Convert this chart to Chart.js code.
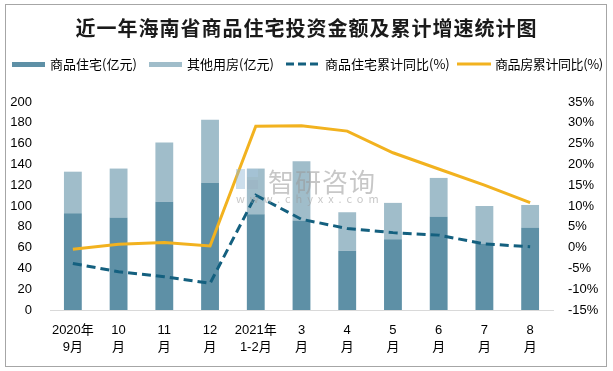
<!DOCTYPE html>
<html>
<head>
<meta charset="utf-8">
<script src="https://cdn.jsdelivr.net/npm/chart.js@4.4.0/dist/chart.umd.min.js"></script>
<style>
  html, body { margin: 0; padding: 0; background: #fff; }
  #wrap { position: relative; width: 613px; height: 371px; overflow: hidden; font-family: "Noto Sans CJK SC", sans-serif; }
  #frame { position: absolute; left: 5px; top: 4px; width: 600px; height: 361px; border: 1px solid #a6a6a6; }
  #chart { position: absolute; left: 0; top: 0; }
  #title { position: absolute; left: 0; top: 13px; width: 613px; text-align: center; font-size: 20px; font-weight: bold; color: #1a1a1a; letter-spacing: 1px; }
  .lg { position: absolute; top: 55px; font-size: 13px; color: #000; white-space: nowrap; line-height: 18px; }
  .sw { position: absolute; top: 62px; width: 33px; height: 5px; }
  .wm { position: absolute; color: #9a9a9a; opacity: 0.55; white-space: nowrap; }
</style>
</head>
<body>
<div id="wrap">
  <canvas id="chart" width="613" height="371"></canvas>
  <div id="frame"></div>
  <div id="title">近一年海南省商品住宅投资金额及累计增速统计图</div>

  <div class="sw" style="left:12px; background:#5e90a6;"></div>
  <div class="lg" style="left:50px;">商品住宅(亿元)</div>
  <div class="sw" style="left:149px; background:#a0bdca;"></div>
  <div class="lg" style="left:187px;">其他用房(亿元)</div>
  <svg style="position:absolute; left:286px; top:61px;" width="33" height="6"><line x1="0" y1="3" x2="33" y2="3" stroke="#14607f" stroke-width="3" stroke-dasharray="8,4"/></svg>
  <div class="lg" style="left:325px;">商品住宅累计同比(%)</div>
  <svg style="position:absolute; left:457px; top:61px;" width="34" height="6"><line x1="0" y1="3" x2="34" y2="3" stroke="#f2b21f" stroke-width="3"/></svg>
  <div class="lg" style="left:495px; letter-spacing:-0.4px;">商品房累计同比(%)</div>

  <svg style="position:absolute; left:236px; top:167px; opacity:0.45;" width="24" height="24">
    <rect x="0" y="2" width="9" height="20" fill="#8fb6d6"/>
    <rect x="11" y="2" width="11" height="8" fill="#a9c7df"/>
    <rect x="11" y="13" width="11" height="9" fill="#9ab0c2"/>
  </svg>
  <div class="wm" style="left:268px; top:162px; font-size:26px; letter-spacing:1px;">智研咨询</div>
  <div class="wm" style="left:236px; top:190px; font-size:11px; letter-spacing:5px;">www.chyxx.com</div>
</div>
<script>
const months = [
  ["2020年", "9月"], ["10", "月"], ["11", "月"], ["12", "月"], ["2021年", "1-2月"],
  ["3", "月"], ["4", "月"], ["5", "月"], ["6", "月"], ["7", "月"], ["8", "月"]
];
const residential = [93, 89, 104, 122, 92, 86, 57, 68, 90, 64, 79];
const otherUse = [40, 47, 57, 61, 44, 57, 37, 35, 37, 36, 22];
const residentialYoY = [-3.8, -5.8, -7.0, -8.6, 12.6, 6.8, 4.6, 3.6, 3.0, 0.9, 0.2];
const housingYoY = [-0.4, 0.8, 1.2, 0.4, 29.2, 29.3, 28.0, 22.8, 18.9, 15.0, 10.8];

const tickFont = { family: "'Liberation Sans', 'Noto Sans CJK SC', sans-serif", size: 13 };

new Chart(document.getElementById("chart"), {
  data: {
    labels: months,
    datasets: [
      {
        type: "line", label: "商品住宅累计同比(%)", data: residentialYoY, yAxisID: "y1",
        borderColor: "#14607f", borderWidth: 3, borderDash: [9, 5], pointRadius: 0, tension: 0, order: 0
      },
      {
        type: "line", label: "商品房累计同比(%)", data: housingYoY, yAxisID: "y1",
        borderColor: "#f2b21f", borderWidth: 3, pointRadius: 0, tension: 0, order: 1
      },
      {
        type: "bar", label: "商品住宅(亿元)", data: residential, yAxisID: "y",
        backgroundColor: "#5e90a6", barPercentage: 0.39, categoryPercentage: 1, order: 2
      },
      {
        type: "bar", label: "其他用房(亿元)", data: otherUse, yAxisID: "y",
        backgroundColor: "#a0bdca", barPercentage: 0.39, categoryPercentage: 1, order: 3
      }
    ]
  },
  options: {
    responsive: false,
    animation: false,
    layout: { padding: { left: 5, right: 0, top: 102, bottom: 0 } },
    plugins: { legend: { display: false }, tooltip: { enabled: false } },
    scales: {
      x: {
        stacked: true,
        grid: { display: false, drawTicks: false },
        border: { display: true, color: "#d9d9d9", width: 1 },
        ticks: { font: { ...tickFont, lineHeight: 1.38 }, color: "#000", padding: 11, maxRotation: 0, autoSkip: false },
        afterFit: s => { s.height = 61; }
      },
      y: {
        stacked: true, position: "left", min: 0, max: 200,
        grid: { display: false, drawTicks: false },
        border: { display: false },
        ticks: { stepSize: 20, font: tickFont, color: "#000", padding: 18 },
        afterFit: s => { s.width = 45; }
      },
      y1: {
        position: "right", min: -15, max: 35,
        grid: { display: false, drawTicks: false },
        border: { display: false },
        ticks: { stepSize: 5, font: tickFont, color: "#000", padding: 15, callback: v => v + "%" },
        afterFit: s => { s.width = 60; }
      }
    }
  }
});
</script>
</body>
</html>
